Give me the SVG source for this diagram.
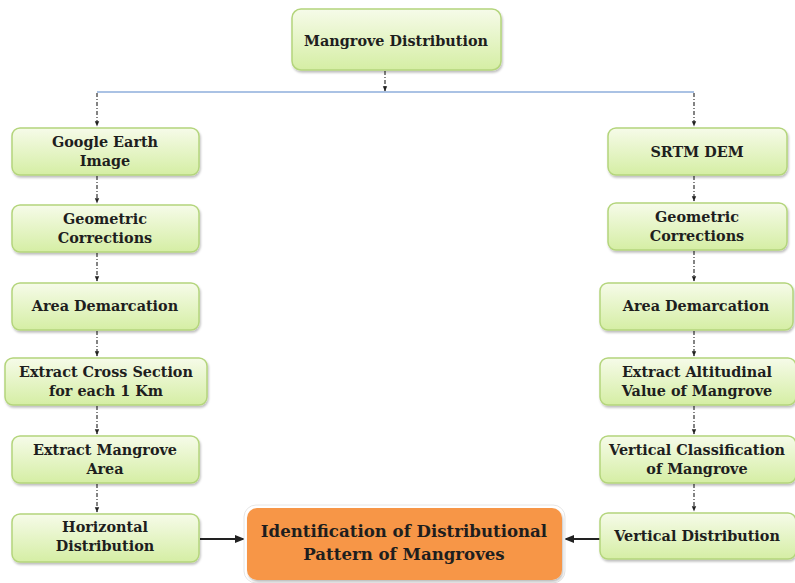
<svg xmlns="http://www.w3.org/2000/svg" width="795" height="583" viewBox="0 0 795 583">
<defs>
<linearGradient id="g" x1="0" y1="0" x2="0" y2="1">
<stop offset="0" stop-color="#f6fbe9"/>
<stop offset="1" stop-color="#d5eea4"/>
</linearGradient>
<marker id="ah" viewBox="0 0 10 10" refX="9" refY="5" markerWidth="5" markerHeight="5" orient="auto">
<path d="M0,1 L10,5 L0,9 z" fill="#222"/>
</marker>
<marker id="ahs" viewBox="0 0 10 10" refX="9" refY="5" markerWidth="4.5" markerHeight="4.5" orient="auto">
<path d="M0,1 L10,5 L0,9 z" fill="#222"/>
</marker>
<filter id="sh" x="-10%" y="-10%" width="120%" height="130%">
<feDropShadow dx="1" dy="2" stdDeviation="1.2" flood-color="#000" flood-opacity="0.25"/>
</filter>
</defs>
<style>
.n rect{fill:url(#g);stroke:#b4d57c;stroke-width:1.5;filter:url(#sh)}
.t{font-family:"DejaVu Serif","Liberation Serif",serif;font-weight:bold;font-size:14.4px;fill:#1e1e1e;text-anchor:middle}
.o{font-size:16.6px}
.d{stroke:#333;stroke-width:1.2;stroke-dasharray:4 2 1 2;fill:none;marker-end:url(#ahs)}
.s{stroke:#222;stroke-width:2;fill:none;marker-end:url(#ah)}
</style>
<g id="connectors">
<line x1="97" y1="92" x2="694" y2="92" stroke="#8eaedb" stroke-width="1.5"/>
<line class="d" x1="385" y1="71" x2="385" y2="91"/>
<line class="d" x1="97" y1="93" x2="97" y2="126"/>
<line class="d" x1="694" y1="93" x2="694" y2="126"/>
<line class="d" x1="97" y1="176" x2="97" y2="203"/>
<line class="d" x1="97" y1="253" x2="97" y2="281"/>
<line class="d" x1="97" y1="331" x2="97" y2="356"/>
<line class="d" x1="97" y1="406" x2="97" y2="434"/>
<line class="d" x1="97" y1="484" x2="97" y2="512"/>
<line class="d" x1="694" y1="176" x2="694" y2="201"/>
<line class="d" x1="694" y1="251" x2="694" y2="281"/>
<line class="d" x1="694" y1="331" x2="694" y2="356"/>
<line class="d" x1="694" y1="406" x2="694" y2="434"/>
<line class="d" x1="694" y1="484" x2="694" y2="511"/>
<line class="s" x1="200" y1="539" x2="244" y2="539"/>
<line class="s" x1="600" y1="539" x2="565" y2="539"/>
</g>
<g id="n-top" class="n"><rect x="292" y="9" width="209" height="61" rx="9"/><text class="t" x="396" y="46">Mangrove Distribution</text></g>
<g id="n-ge" class="n"><rect x="12" y="128" width="187" height="47" rx="8"/><text class="t" x="105" y="147">Google Earth</text><text class="t" x="105" y="166">Image</text></g>
<g id="n-gc1" class="n"><rect x="12" y="205" width="187" height="47" rx="8"/><text class="t" x="105" y="224">Geometric</text><text class="t" x="105" y="243">Corrections</text></g>
<g id="n-ad1" class="n"><rect x="12" y="283" width="187" height="47" rx="8"/><text class="t" x="105" y="311">Area Demarcation</text></g>
<g id="n-ecs" class="n"><rect x="5" y="358" width="202" height="47" rx="8"/><text class="t" x="106" y="377">Extract Cross Section</text><text class="t" x="106" y="396">for each 1 Km</text></g>
<g id="n-ema" class="n"><rect x="12" y="436" width="187" height="47" rx="8"/><text class="t" x="105" y="455">Extract Mangrove</text><text class="t" x="105" y="474">Area</text></g>
<g id="n-hd" class="n"><rect x="12" y="514" width="187" height="48" rx="8"/><text class="t" x="105" y="532">Horizontal</text><text class="t" x="105" y="551">Distribution</text></g>
<g id="n-srtm" class="n"><rect x="608" y="128" width="179" height="47" rx="8"/><text class="t" x="697" y="157">SRTM DEM</text></g>
<g id="n-gc2" class="n"><rect x="608" y="203" width="179" height="47" rx="8"/><text class="t" x="697" y="222">Geometric</text><text class="t" x="697" y="241">Corrections</text></g>
<g id="n-ad2" class="n"><rect x="600" y="283" width="193" height="47" rx="8"/><text class="t" x="696" y="311">Area Demarcation</text></g>
<g id="n-eav" class="n"><rect x="600" y="358" width="196" height="47" rx="8"/><text class="t" x="697" y="377">Extract Altitudinal</text><text class="t" x="697" y="396">Value of Mangrove</text></g>
<g id="n-vc" class="n"><rect x="600" y="436" width="196" height="47" rx="8"/><text class="t" x="697" y="455">Vertical Classification</text><text class="t" x="697" y="474">of Mangrove</text></g>
<g id="n-vd" class="n"><rect x="600" y="513" width="196" height="46" rx="8"/><text class="t" x="697" y="541">Vertical Distribution</text></g>
<g id="n-id"><rect x="244" y="505" width="321" height="78" rx="12" fill="#ffffff" stroke="#e6e6e6" stroke-width="1"/><rect x="247" y="508" width="315" height="72" rx="10" fill="#f79646" filter="url(#sh)"/><text class="t o" x="404" y="537">Identification of Distributional</text><text class="t o" x="404" y="560">Pattern of Mangroves</text></g>
</svg>
